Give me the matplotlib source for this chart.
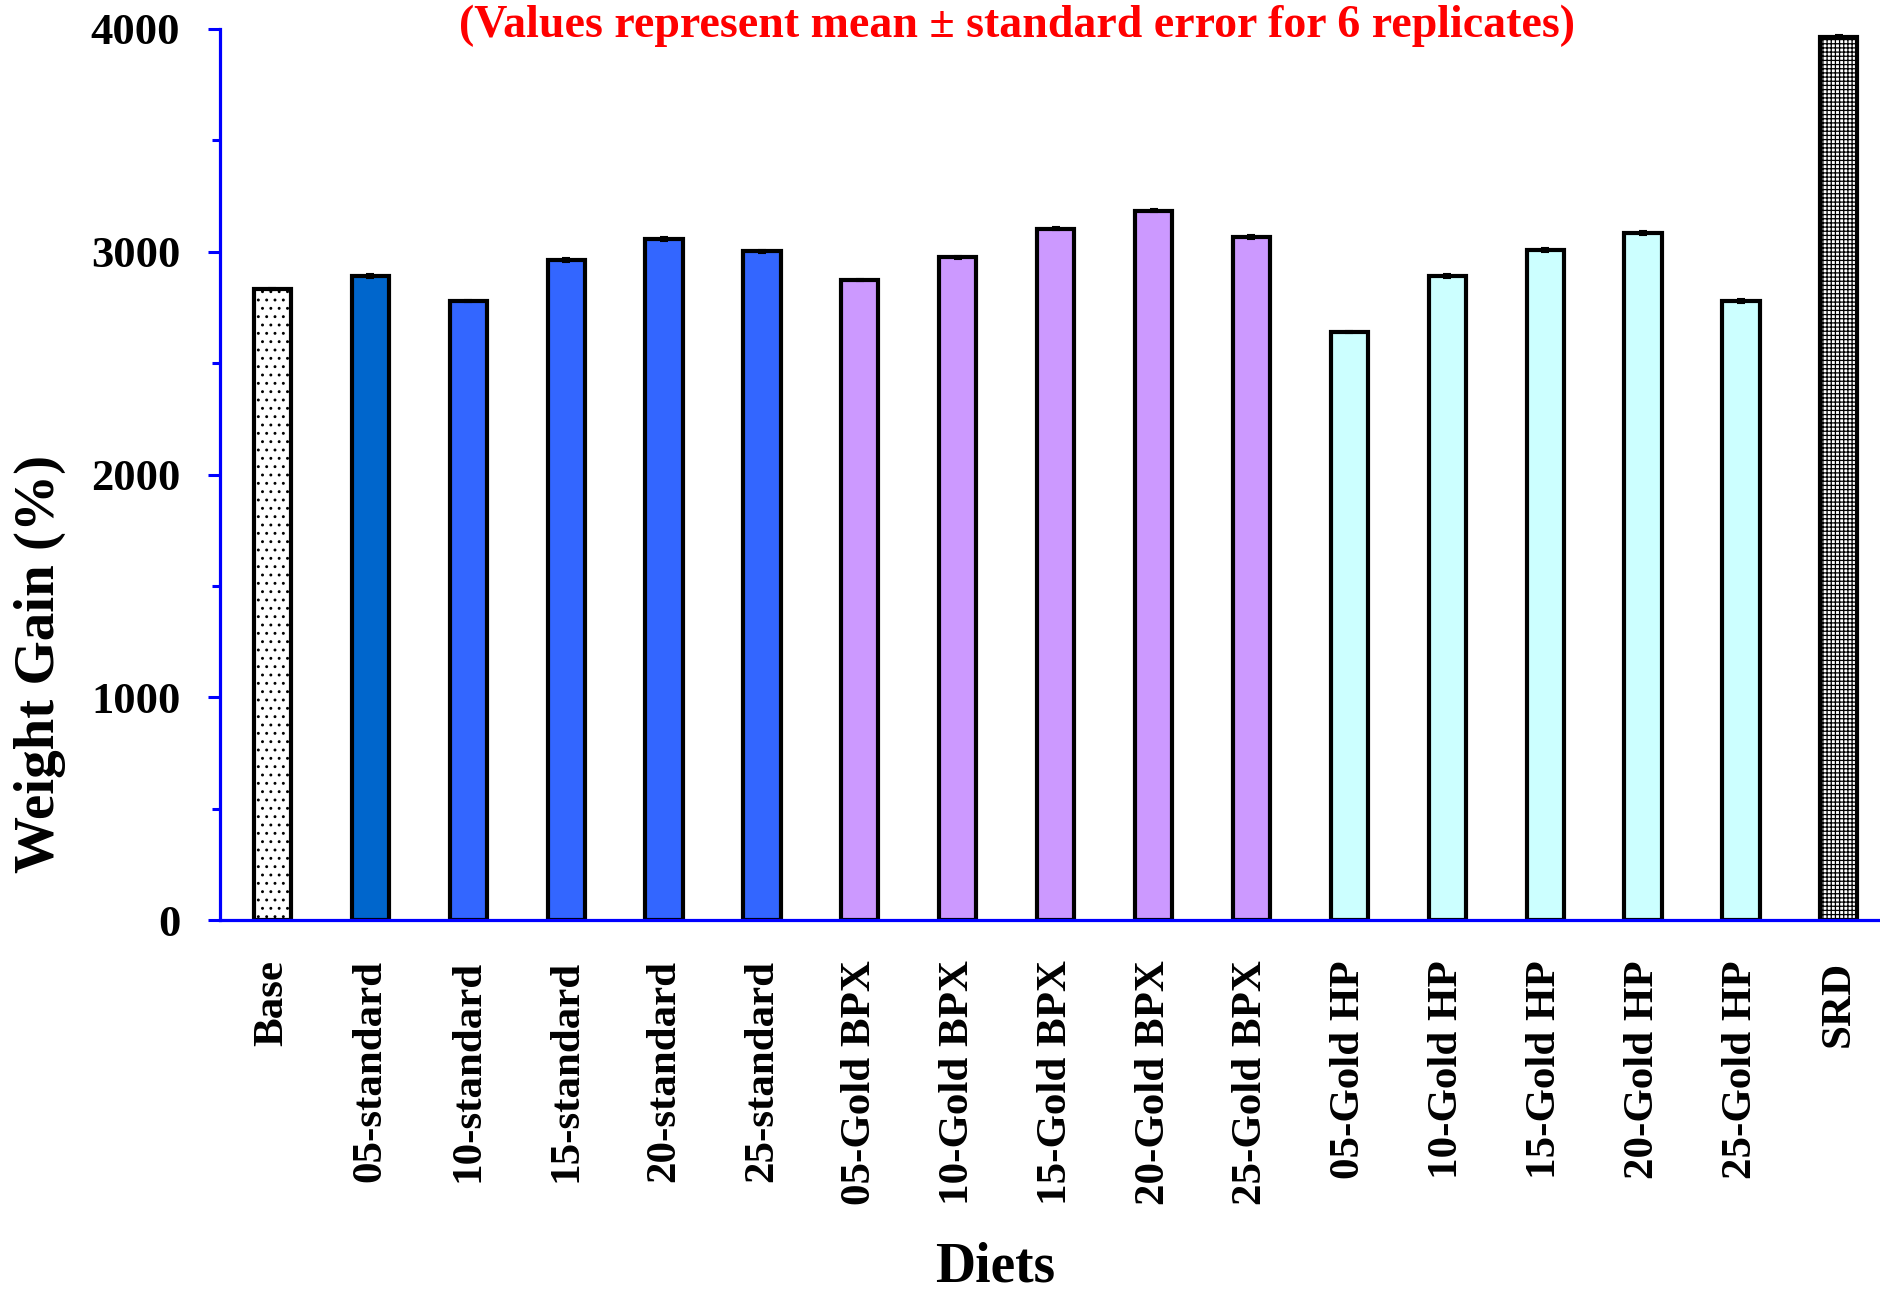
import matplotlib
matplotlib.use("Agg")
import matplotlib.pyplot as plt
from matplotlib.ticker import MultipleLocator
import numpy as np

diets = ["Base", "05-standard", "10-standard", "15-standard", "20-standard", "25-standard",
         "05-Gold BPX", "10-Gold BPX", "15-Gold BPX", "20-Gold BPX", "25-Gold BPX",
         "05-Gold HP", "10-Gold HP", "15-Gold HP", "20-Gold HP", "25-Gold HP", "SRD"]
weight_gain = [2833, 2891, 2779, 2963, 3057, 3003,
               2873, 2976, 3104, 3185, 3066,
               2640, 2891, 3008, 3084, 2779, 3966]
std_err = [6, 7, 6, 7, 9, 7,
           6, 7, 7, 7, 7,
           6, 7, 7, 7, 8, 8]
bar_colors = ["white", "#0066CC", "#3366FF", "#3366FF", "#3366FF", "#3366FF",
              "#CC99FF", "#CC99FF", "#CC99FF", "#CC99FF", "#CC99FF",
              "#CCFFFF", "#CCFFFF", "#CCFFFF", "#CCFFFF", "#CCFFFF", "white"]
bar_hatches = ["..", "", "", "", "", "", "", "", "", "", "", "", "", "", "", "", "++++"]

title_text = "(Values represent mean \u00b1 standard error for 6 replicates)"
ylabel_text = "Weight Gain (%)"
xlabel_text = "Diets"

plt.rcParams["font.family"] = ["Liberation Serif", "DejaVu Serif"]
plt.rcParams["font.weight"] = "bold"
plt.rcParams["hatch.linewidth"] = 0.9
plt.rcParams["hatch.color"] = "black"

fig = plt.figure(figsize=(18.8, 12.9), dpi=100)
ax = fig.add_axes([220 / 1880, 370 / 1290, 1 - 220 / 1880, (920 - 29) / 1290])

x = np.arange(len(diets))
bars = ax.bar(x, weight_gain, width=0.38, color=bar_colors, edgecolor="black",
              linewidth=3, zorder=2)
for b, h in zip(bars, bar_hatches):
    if h:
        b.set_hatch(h)
ax.errorbar(x, weight_gain, yerr=std_err, fmt="none", ecolor="black",
            elinewidth=1.5, capsize=3, capthick=1.5, zorder=3)

ax.set_xlim(-0.536, 16.42)
ax.set_ylim(0, 4000)

for s in ["top", "right"]:
    ax.spines[s].set_visible(False)
for s in ["left", "bottom"]:
    ax.spines[s].set_color("#0000FF")
    ax.spines[s].set_linewidth(2.3)
    ax.spines[s].set_zorder(4)

ax.yaxis.set_major_locator(MultipleLocator(1000))
ax.yaxis.set_minor_locator(MultipleLocator(500))
ax.tick_params(axis="y", which="major", direction="out", length=8.6, width=2.2,
               color="#0000FF", labelsize=32, pad=20)
ax.tick_params(axis="y", which="minor", direction="out", length=5.8, width=2.2,
               color="#0000FF")
ax.set_xticks(x)
ax.set_xticklabels(diets, rotation=90, fontsize=31, fontweight="bold", va="top", ha="center")
ax.tick_params(axis="x", length=0, pad=29)
for lbl in ax.get_yticklabels():
    lbl.set_fontweight("bold")

fig.text(40 / 1880, 1 - 664 / 1290, ylabel_text, rotation=90, fontsize=41,
         fontweight="bold", ha="center", va="center")
fig.text(995 / 1880, 1 - 1281 / 1290, xlabel_text, fontsize=40, fontweight="bold",
         ha="center", va="baseline")
fig.text(1017 / 1880, 1 - 37 / 1290, title_text, fontsize=33, fontweight="bold",
         color="#FF0000", ha="center", va="baseline")

fig.savefig("out.png", dpi=100, facecolor="white")
